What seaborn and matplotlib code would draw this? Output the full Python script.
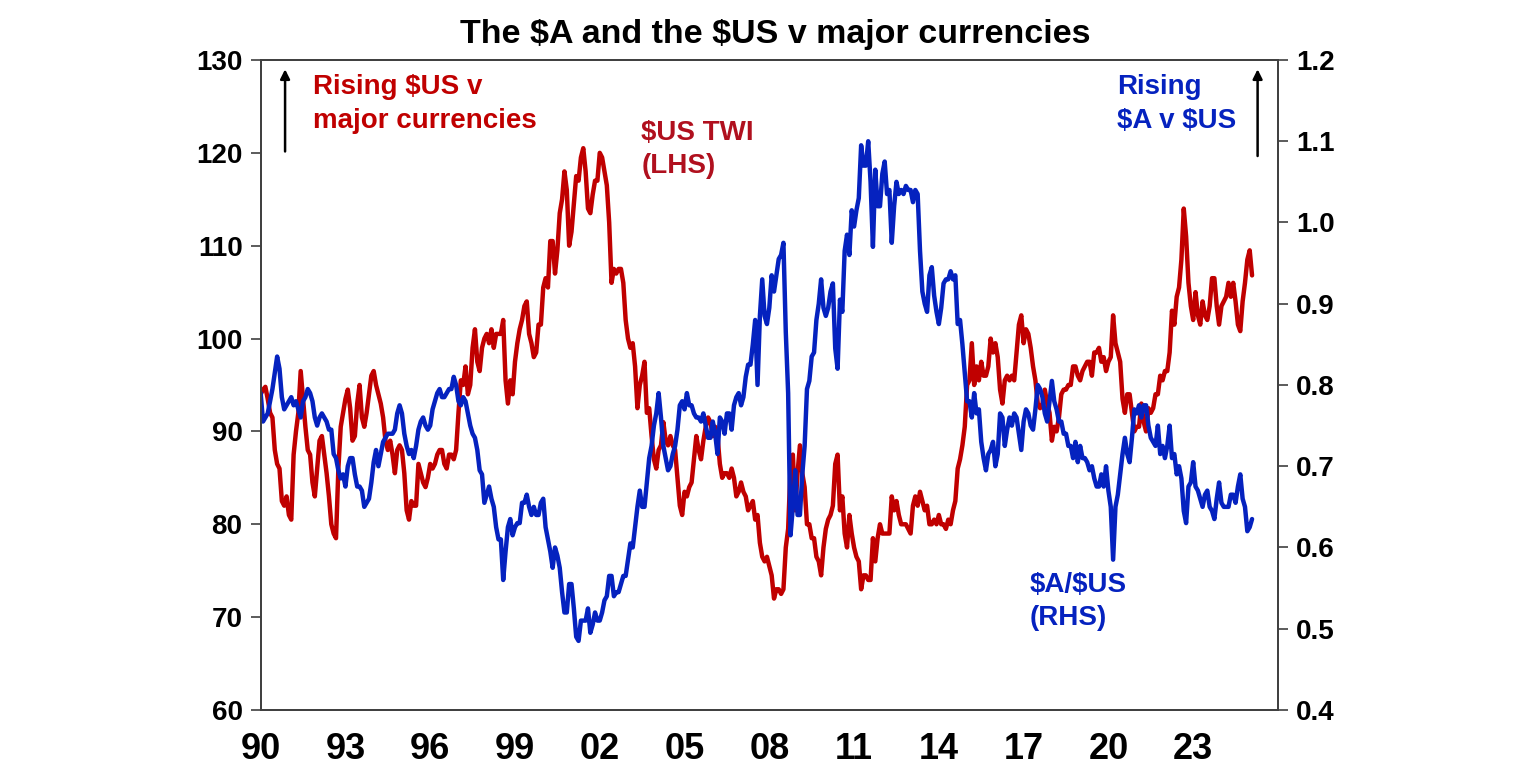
import numpy as np
import pandas as pd
import seaborn as sns
import matplotlib.pyplot as plt

# monthly readings, Jan 1990 .. Feb 2025
us_twi = [
    94.0, 94.5, 94.8, 93.5, 92.0, 91.5, 88.0, 86.5, 86.0, 82.5, 82.0, 83.0,   # 1990
    81.0, 80.5, 87.5, 90.0, 92.0, 96.5, 93.5, 90.5, 88.0, 87.5, 84.5, 83.0,   # 1991
    86.0, 89.0, 89.5, 87.5, 85.5, 83.0, 80.0, 79.0, 78.5, 86.0, 90.5, 92.0,   # 1992
    93.5, 94.5, 92.5, 89.0, 89.5, 93.0, 95.0, 91.5, 90.5, 92.0, 94.0, 96.0,   # 1993
    96.5, 95.0, 94.0, 93.0, 91.5, 89.0, 88.0, 89.0, 87.5, 85.5, 88.0, 88.5,   # 1994
    88.0, 85.5, 81.5, 80.5, 82.5, 82.0, 82.0, 86.5, 85.5, 84.5, 84.0, 85.0,   # 1995
    86.5, 86.0, 86.5, 87.5, 88.0, 88.0, 86.5, 86.0, 87.5, 87.5, 87.0, 88.0,   # 1996
    92.0, 95.5, 95.0, 97.0, 94.0, 95.0, 99.0, 101.0, 97.5, 96.5, 99.0, 100.0,  # 1997
    100.5, 99.5, 101.0, 99.0, 100.5, 100.5, 100.5, 102.0, 95.5, 93.0, 95.5, 94.0,  # 1998
    97.5, 99.5, 101.0, 102.0, 103.5, 104.0, 100.5, 99.5, 98.0, 98.5, 101.5, 101.5,  # 1999
    105.5, 106.5, 105.5, 110.5, 110.5, 107.0, 109.5, 113.5, 115.0, 118.0, 116.0, 110.0,  # 2000
    111.5, 114.5, 117.5, 117.0, 119.5, 120.5, 118.0, 114.0, 113.5, 115.5, 117.0, 117.0,  # 2001
    120.0, 119.5, 118.0, 116.5, 112.5, 106.0, 107.5, 107.0, 107.5, 107.5, 106.0, 102.0,  # 2002
    100.0, 99.0, 99.5, 97.0, 92.5, 95.0, 96.0, 97.5, 92.0, 92.5, 89.5, 87.0,  # 2003
    86.0, 88.0, 88.5, 91.0, 89.0, 88.5, 89.5, 88.5, 88.0, 85.0, 82.0, 81.0,   # 2004
    83.5, 83.0, 84.0, 84.5, 87.0, 89.5, 88.0, 87.0, 89.0, 90.5, 91.5, 91.0,   # 2005
    89.5, 90.5, 89.5, 86.5, 85.0, 85.5, 85.5, 85.0, 86.0, 85.0, 83.0, 83.5,   # 2006
    84.5, 83.5, 83.0, 81.5, 82.0, 82.5, 80.5, 81.0, 78.0, 76.5, 76.0, 76.5,   # 2007
    75.5, 74.5, 72.0, 73.0, 73.0, 72.5, 73.0, 77.5, 79.5, 86.0, 87.5, 81.5,   # 2008
    85.5, 88.5, 85.5, 84.0, 80.0, 80.0, 78.5, 78.5, 76.5, 76.0, 74.5, 77.5,   # 2009
    79.5, 80.5, 81.0, 82.0, 86.5, 87.5, 81.5, 83.0, 79.0, 77.5, 81.0, 79.0,   # 2010
    77.5, 76.5, 76.0, 73.0, 74.5, 74.5, 74.0, 74.0, 78.5, 76.0, 78.5, 80.0,   # 2011
    79.0, 79.0, 79.0, 79.0, 83.0, 81.5, 82.5, 81.0, 80.0, 80.0, 80.0, 79.5,   # 2012
    79.0, 82.0, 83.0, 82.0, 83.5, 82.5, 81.5, 82.0, 80.0, 80.0, 80.5, 80.0,   # 2013
    81.0, 80.0, 80.0, 79.5, 80.5, 80.0, 81.5, 82.5, 86.0, 87.0, 88.5, 90.5,   # 2014
    95.0, 95.5, 99.5, 95.0, 97.0, 95.5, 97.5, 96.0, 96.0, 97.0, 100.0, 98.5,  # 2015
    99.5, 98.0, 94.5, 93.0, 95.5, 96.0, 95.5, 96.0, 95.5, 98.5, 101.5, 102.5,  # 2016
    99.5, 101.0, 100.5, 99.0, 97.0, 95.5, 93.0, 92.5, 93.0, 94.5, 93.0, 92.0,  # 2017
    89.0, 90.5, 90.0, 91.5, 94.0, 94.5, 94.5, 95.0, 95.0, 97.0, 97.0, 96.0,   # 2018
    95.5, 96.5, 97.0, 97.5, 97.5, 96.0, 98.5, 98.5, 99.0, 97.5, 98.0, 96.5,   # 2019
    97.5, 98.0, 102.5, 99.5, 98.5, 97.5, 93.5, 92.0, 94.0, 94.0, 92.0, 90.0,  # 2020
    90.5, 90.5, 93.0, 91.0, 90.0, 92.5, 92.0, 92.5, 94.0, 94.0, 96.0, 95.5,   # 2021
    96.5, 96.5, 98.5, 103.0, 101.5, 104.5, 105.5, 108.5, 114.0, 111.0, 106.0, 103.5,  # 2022
    102.0, 105.0, 102.5, 101.5, 104.0, 102.5, 102.0, 103.5, 106.5, 106.5, 103.5, 101.5,  # 2023
    103.5, 104.0, 104.5, 106.0, 104.5, 106.0, 104.0, 101.5, 100.8, 104.0, 106.0, 108.5,  # 2024
    109.5, 106.8,                                                              # 2025
]

aud_usd = [
    0.790, 0.755, 0.760, 0.765, 0.780, 0.795, 0.815, 0.835, 0.820, 0.785, 0.770, 0.775,  # 1990
    0.780, 0.785, 0.775, 0.780, 0.770, 0.760, 0.780, 0.785, 0.795, 0.790, 0.780, 0.760,  # 1991
    0.750, 0.760, 0.765, 0.760, 0.755, 0.745, 0.745, 0.715, 0.710, 0.695, 0.685, 0.690,  # 1992
    0.675, 0.700, 0.710, 0.710, 0.690, 0.675, 0.675, 0.670, 0.650, 0.655, 0.660, 0.680,  # 1993
    0.705, 0.720, 0.700, 0.715, 0.730, 0.735, 0.740, 0.740, 0.740, 0.745, 0.765, 0.775,  # 1994
    0.765, 0.740, 0.725, 0.715, 0.720, 0.710, 0.725, 0.745, 0.755, 0.760, 0.750, 0.745,  # 1995
    0.750, 0.770, 0.780, 0.790, 0.795, 0.785, 0.785, 0.790, 0.795, 0.795, 0.810, 0.800,  # 1996
    0.780, 0.775, 0.785, 0.780, 0.765, 0.750, 0.740, 0.735, 0.720, 0.695, 0.690, 0.655,  # 1997
    0.665, 0.675, 0.660, 0.650, 0.625, 0.610, 0.610, 0.560, 0.595, 0.625, 0.635, 0.615,  # 1998
    0.625, 0.630, 0.630, 0.655, 0.655, 0.665, 0.650, 0.640, 0.650, 0.640, 0.640, 0.655,  # 1999
    0.660, 0.625, 0.610, 0.595, 0.575, 0.600, 0.590, 0.575, 0.545, 0.520, 0.520, 0.555,  # 2000
    0.555, 0.525, 0.490, 0.485, 0.510, 0.510, 0.510, 0.525, 0.495, 0.505, 0.520, 0.510,  # 2001
    0.510, 0.520, 0.535, 0.540, 0.565, 0.565, 0.540, 0.545, 0.545, 0.555, 0.565, 0.565,  # 2002
    0.585, 0.605, 0.600, 0.625, 0.650, 0.670, 0.650, 0.650, 0.680, 0.710, 0.725, 0.750,  # 2003
    0.765, 0.790, 0.760, 0.725, 0.710, 0.695, 0.700, 0.715, 0.725, 0.745, 0.775, 0.780,  # 2004
    0.770, 0.790, 0.775, 0.775, 0.765, 0.760, 0.760, 0.755, 0.765, 0.750, 0.735, 0.735,  # 2005
    0.755, 0.740, 0.715, 0.760, 0.755, 0.740, 0.765, 0.765, 0.745, 0.775, 0.785, 0.790,  # 2006
    0.775, 0.785, 0.810, 0.825, 0.825, 0.850, 0.880, 0.800, 0.885, 0.930, 0.885, 0.875,  # 2007
    0.895, 0.935, 0.915, 0.935, 0.955, 0.960, 0.975, 0.865, 0.790, 0.615, 0.650, 0.695,  # 2008
    0.640, 0.640, 0.690, 0.725, 0.795, 0.805, 0.835, 0.840, 0.880, 0.900, 0.930, 0.895,  # 2009
    0.885, 0.895, 0.915, 0.925, 0.845, 0.820, 0.905, 0.890, 0.965, 0.985, 0.960, 1.015,  # 2010
    0.995, 1.015, 1.030, 1.095, 1.070, 1.070, 1.100, 1.050, 0.970, 1.065, 1.020, 1.020,  # 2011
    1.060, 1.075, 1.035, 1.040, 0.975, 1.020, 1.050, 1.035, 1.040, 1.035, 1.045, 1.040,  # 2012
    1.040, 1.025, 1.040, 1.035, 0.965, 0.915, 0.900, 0.890, 0.935, 0.945, 0.910, 0.890,  # 2013
    0.875, 0.895, 0.925, 0.930, 0.930, 0.940, 0.930, 0.935, 0.875, 0.880, 0.850, 0.815,  # 2014
    0.780, 0.780, 0.760, 0.790, 0.765, 0.770, 0.730, 0.710, 0.695, 0.715, 0.720, 0.730,  # 2015
    0.700, 0.715, 0.765, 0.760, 0.725, 0.745, 0.760, 0.750, 0.765, 0.760, 0.740, 0.720,  # 2016
    0.755, 0.770, 0.765, 0.750, 0.745, 0.770, 0.800, 0.795, 0.785, 0.765, 0.755, 0.780,  # 2017
    0.805, 0.780, 0.770, 0.755, 0.755, 0.740, 0.740, 0.725, 0.725, 0.710, 0.730, 0.705,  # 2018
    0.725, 0.710, 0.710, 0.705, 0.695, 0.700, 0.685, 0.675, 0.675, 0.690, 0.675, 0.700,  # 2019
    0.670, 0.650, 0.585, 0.650, 0.665, 0.690, 0.715, 0.735, 0.715, 0.705, 0.735, 0.770,  # 2020
    0.765, 0.775, 0.760, 0.775, 0.775, 0.750, 0.735, 0.730, 0.725, 0.750, 0.715, 0.725,  # 2021
    0.710, 0.725, 0.750, 0.710, 0.715, 0.690, 0.700, 0.685, 0.645, 0.630, 0.675, 0.680,  # 2022
    0.705, 0.675, 0.670, 0.660, 0.650, 0.665, 0.670, 0.650, 0.645, 0.635, 0.660, 0.680,  # 2023
    0.655, 0.650, 0.650, 0.650, 0.665, 0.665, 0.655, 0.675, 0.690, 0.660, 0.650, 0.620,  # 2024
    0.625, 0.635,                                                                          # 2025
]

dates = pd.date_range("1990-01-01", periods=len(us_twi), freq="MS")
years = dates.year + (dates.month - 1) / 12

tick_years = list(range(1990, 2024, 3))
tick_labels = [f"{y % 100:02d}" for y in tick_years]

df = pd.DataFrame({"year": years, "twi": us_twi, "aud": aud_usd})

RED = "#C00000"
BLUE = "#0522BF"

sns.set_style("white")
plt.rcParams["font.family"] = ["Liberation Sans", "DejaVu Sans"]
plt.rcParams["font.weight"] = "bold"
plt.rcParams["text.parse_math"] = False
plt.rcParams["text.color"] = "black"
plt.rcParams["xtick.color"] = "black"
plt.rcParams["ytick.color"] = "black"

fig = plt.figure(figsize=(15.36, 7.75), dpi=100)
ax = fig.add_axes([0.1697, 0.0839, 0.6623, 0.8387])
ax2 = ax.twinx()

sns.lineplot(data=df, x="year", y="twi", ax=ax, color=RED, linewidth=3.2)
sns.lineplot(data=df, x="year", y="aud", ax=ax2, color=BLUE, linewidth=3.2)

ax.set_xlim(1990, 2026)
ax.set_ylim(60, 130)
ax2.set_ylim(0.4, 1.2)
ax.set_yticks(range(60, 131, 10))
ax2.set_yticks(np.arange(0.4, 1.21, 0.1))
ax2.set_yticklabels([f"{v:.1f}" for v in np.arange(0.4, 1.21, 0.1)])
ax.set_xticks(tick_years)
ax.set_xticklabels(tick_labels)
ax.set_xlabel("")
ax.set_ylabel("")
ax2.set_ylabel("")

for a in (ax, ax2):
    for s in a.spines.values():
        s.set_color("#404040")
        s.set_linewidth(1.3)
ax.tick_params(axis="y", direction="out", length=7, width=1.2, color="#404040",
               labelcolor="black", labelsize=20, pad=6)
ax.tick_params(axis="x", direction="out", length=8, width=1.2, color="#404040",
               labelcolor="black", labelsize=26, pad=8)
ax2.tick_params(axis="y", direction="out", length=7, width=1.2, color="#404040",
                labelcolor="black", labelsize=20, pad=6)
for lab in ax.get_xticklabels() + ax.get_yticklabels() + ax2.get_yticklabels():
    lab.set_fontweight("bold")

fig.text(0.505, 0.955, "The $A and the $US v major currencies", ha="center", va="center",
         fontsize=24.5, fontweight="bold", color="black")

ls = 1.38
ax.text(0.051, 0.978, "Rising $US v\nmajor currencies", transform=ax.transAxes,
        color=RED, fontsize=20, fontweight="bold", va="top", ha="left", linespacing=ls)
ax.annotate("", xy=(0.024, 0.99), xytext=(0.024, 0.855), xycoords="axes fraction",
            arrowprops=dict(arrowstyle="-|>", color="black", lw=1.8, mutation_scale=14))
ax.text(0.374, 0.908, "$US TWI\n(LHS)", transform=ax.transAxes,
        color="#B0101E", fontsize=20, fontweight="bold", va="top", ha="left", linespacing=ls)
ax.text(0.842, 0.978, "Rising\n$A v $US", transform=ax.transAxes,
        color=BLUE, fontsize=20, fontweight="bold", va="top", ha="left", linespacing=ls)
ax.annotate("", xy=(0.980, 0.99), xytext=(0.980, 0.848), xycoords="axes fraction",
            arrowprops=dict(arrowstyle="-|>", color="black", lw=1.8, mutation_scale=14))
ax.text(0.756, 0.213, "$A/$US\n(RHS)", transform=ax.transAxes,
        color=BLUE, fontsize=20, fontweight="bold", va="top", ha="left", linespacing=ls)

plt.savefig("out.png", dpi=100)
